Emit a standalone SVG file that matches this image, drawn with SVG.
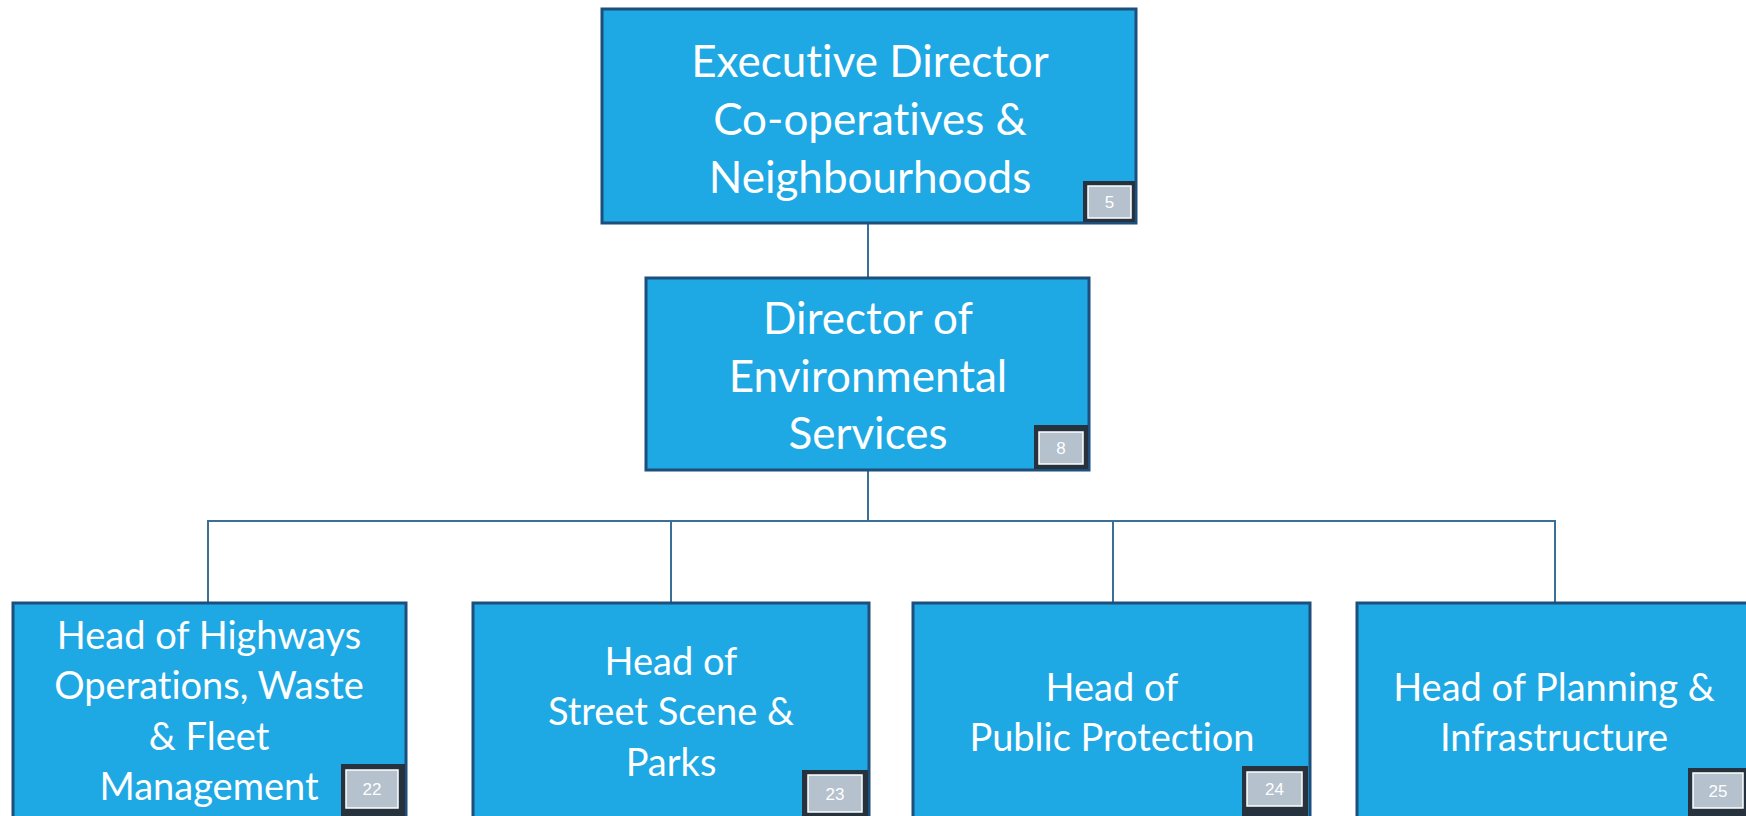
<svg xmlns="http://www.w3.org/2000/svg" width="1746" height="816" viewBox="0 0 1746 816">
<style>
.box{fill:#1ea8e4;stroke:#1d4f7c;stroke-width:3}
.t{font-family:Lato,"Open Sans","Liberation Sans",sans-serif;fill:#ffffff;text-anchor:middle;font-variant-ligatures:none}
.big{font-size:44px}
.sm{font-size:38px}
.conn{fill:none;stroke:#3c6f98;stroke-width:2}
.bf{fill:#26323e}
.bi{fill:#b5c1cd;stroke:#ffffff;stroke-width:1.5}
.bt{font-family:"Liberation Sans",sans-serif;font-size:17px;fill:#ffffff;text-anchor:middle}
</style>
<rect width="1746" height="816" fill="#ffffff"/>
<g id="connectors">
<line class="conn" x1="868" y1="223" x2="868" y2="278"/>
<line class="conn" x1="868" y1="470" x2="868" y2="521"/>
<polyline class="conn" points="208,603 208,521 1555,521 1555,603"/>
<line class="conn" x1="671" y1="521" x2="671" y2="603"/>
<line class="conn" x1="1113" y1="521" x2="1113" y2="603"/>
</g>
<g id="n5">
<rect class="box" x="602" y="9" width="534" height="214"/>
<text class="t big" x="870" y="77">Executive Director</text>
<text class="t big" x="870" y="135">Co-operatives &amp;</text>
<text class="t big" x="870" y="193">Neighbourhoods</text>
<rect class="bf" x="1083" y="181" width="52" height="41"/>
<rect class="bi" x="1088" y="186" width="43" height="32"/>
<text class="bt" x="1109.5" y="208">5</text>
</g>
<g id="n8">
<rect class="box" x="646" y="278" width="443" height="192"/>
<text class="t big" x="868" y="334">Director of</text>
<text class="t big" x="868" y="392">Environmental</text>
<text class="t big" x="868" y="449">Services</text>
<rect class="bf" x="1034" y="425" width="54" height="44"/>
<rect class="bi" x="1039" y="432" width="44" height="32"/>
<text class="bt" x="1061" y="454">8</text>
</g>
<g id="n22">
<rect class="box" x="13" y="603" width="393" height="230"/>
<text class="t sm" x="209" y="649">Head of Highways</text>
<text class="t sm" x="209" y="699">Operations, Waste</text>
<text class="t sm" x="209" y="750">&amp; Fleet</text>
<text class="t sm" x="209" y="800">Management</text>
<rect class="bf" x="341" y="764" width="64" height="52"/>
<rect class="bi" x="346" y="770" width="52" height="38"/>
<text class="bt" x="372" y="795">22</text>
</g>
<g id="n23">
<rect class="box" x="473" y="603" width="396" height="230"/>
<text class="t sm" x="671" y="675">Head of</text>
<text class="t sm" x="671" y="725">Street Scene &amp;</text>
<text class="t sm" x="671" y="776">Parks</text>
<rect class="bf" x="802" y="770" width="66" height="46"/>
<rect class="bi" x="808" y="775" width="54" height="37"/>
<text class="bt" x="835" y="800">23</text>
</g>
<g id="n24">
<rect class="box" x="913" y="603" width="397" height="230"/>
<text class="t sm" x="1112" y="701">Head of</text>
<text class="t sm" x="1112" y="751">Public Protection</text>
<rect class="bf" x="1242" y="766" width="66" height="50"/>
<rect class="bi" x="1247" y="772" width="55" height="34"/>
<text class="bt" x="1274.5" y="795">24</text>
</g>
<g id="n25">
<rect class="box" x="1357" y="603" width="396" height="230"/>
<text class="t sm" x="1554" y="701">Head of Planning &amp;</text>
<text class="t sm" x="1554" y="751">Infrastructure</text>
<rect class="bf" x="1688" y="768" width="60" height="48"/>
<rect class="bi" x="1693" y="773" width="50" height="35"/>
<text class="bt" x="1718" y="797">25</text>
</g>
</svg>
